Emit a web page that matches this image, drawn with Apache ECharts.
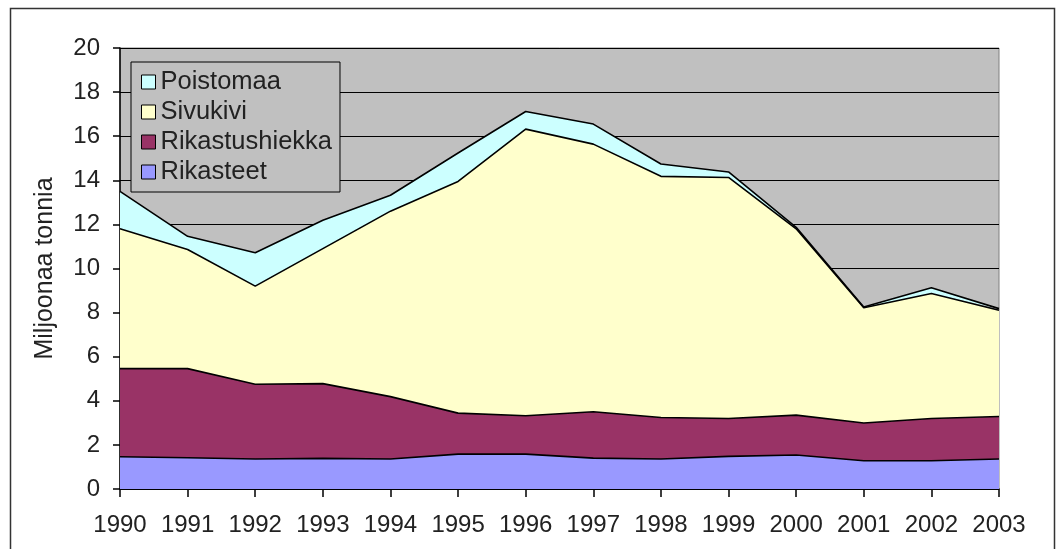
<!DOCTYPE html>
<html>
<head>
<meta charset="utf-8">
<script src="https://cdn.jsdelivr.net/npm/echarts@6/dist/echarts.min.js"></script>
<style>
  html, body { margin: 0; padding: 0; background: #fff; }
  #main { width: 1056px; height: 549px; }
</style>
</head>
<body>
<div id="main"></div>
<script>
// vuodet
var years = ['1990', '1991', '1992', '1993', '1994', '1995', '1996', '1997', '1998', '1999', '2000', '2001', '2002', '2003'];
// miljoonaa tonnia, luettu kuvasta
var rikasteet = [1.46, 1.42, 1.36, 1.39, 1.36, 1.58, 1.58, 1.40, 1.36, 1.48, 1.54, 1.28, 1.28, 1.36];
var rikastushiekka = [4.00, 4.04, 3.39, 3.39, 2.83, 1.86, 1.74, 2.10, 1.88, 1.72, 1.81, 1.71, 1.92, 1.93];
var sivukivi = [6.34, 5.40, 4.45, 6.12, 8.41, 10.51, 13.00, 12.14, 10.94, 10.93, 8.45, 5.23, 5.67, 4.82];
var poistomaa = [1.70, 0.60, 1.51, 1.29, 0.72, 1.29, 0.80, 0.91, 0.56, 0.25, 0.07, 0.03, 0.26, 0.07];

var fontFam = '"Liberation Sans", Arial, sans-serif';

function area(name, color, data) {
    return {
        name: name,
        type: 'line',
        stack: 'total',
        data: data,
        color: color,
        showSymbol: false,
        symbol: 'none',
        lineStyle: { color: '#000', width: 1.6 },
        areaStyle: { color: color, opacity: 1 },
        itemStyle: { color: color },
        emphasis: { disabled: true }
    };
}

var myChart = echarts.init(document.getElementById('main'));
myChart.setOption({
    animation: false,
    textStyle: { fontFamily: fontFam },
    graphic: [{
        type: 'rect',
        z: -10,
        shape: { x: 10.5, y: 8.5, width: 1044, height: 600 },
        style: { fill: 'none', stroke: '#333', lineWidth: 1.5 }
    }],
    grid: {
        left: 120, right: 57, top: 48, bottom: 60,
        show: true,
        backgroundColor: '#C0C0C0',
        borderColor: '#808080',
        borderWidth: 1
    },
    legend: {
        orient: 'vertical',
        left: 131, top: 62,
        data: ['Poistomaa', 'Sivukivi', 'Rikastushiekka', 'Rikasteet'],
        icon: 'rect',
        itemWidth: 14, itemHeight: 14, itemGap: 4,
        padding: [7, 8, 7, 10],
        backgroundColor: '#C0C0C0',
        borderColor: '#000', borderWidth: 1,
        itemStyle: { borderColor: '#000', borderWidth: 1 },
        textStyle: { fontSize: 25.5, color: '#222', fontFamily: fontFam }
    },
    xAxis: {
        type: 'category',
        data: years,
        boundaryGap: false,
        axisLine: { lineStyle: { color: '#000', width: 1.5 } },
        axisTick: { length: 8, lineStyle: { color: '#000', width: 1.5 } },
        axisLabel: { fontSize: 24, color: '#222', margin: 24, interval: 0, fontFamily: fontFam },
        splitLine: { show: false }
    },
    yAxis: {
        type: 'value',
        min: 0, max: 20, interval: 2,
        name: 'Miljoonaa tonnia',
        nameLocation: 'middle',
        nameGap: 62,
        nameTextStyle: { fontSize: 25, color: '#222', fontFamily: fontFam },
        axisLine: { show: true, lineStyle: { color: '#000', width: 1.5 } },
        axisTick: { show: true, length: 7, lineStyle: { color: '#000', width: 1.5 } },
        axisLabel: { fontSize: 24, color: '#222', margin: 20, fontFamily: fontFam },
        splitLine: { lineStyle: { color: '#000', width: 1.2 } }
    },
    series: [
        area('Rikasteet', '#9999FF', rikasteet),
        area('Rikastushiekka', '#993366', rikastushiekka),
        area('Sivukivi', '#FFFFCC', sivukivi),
        area('Poistomaa', '#CCFFFF', poistomaa)
    ]
});
</script>
</body>
</html>
